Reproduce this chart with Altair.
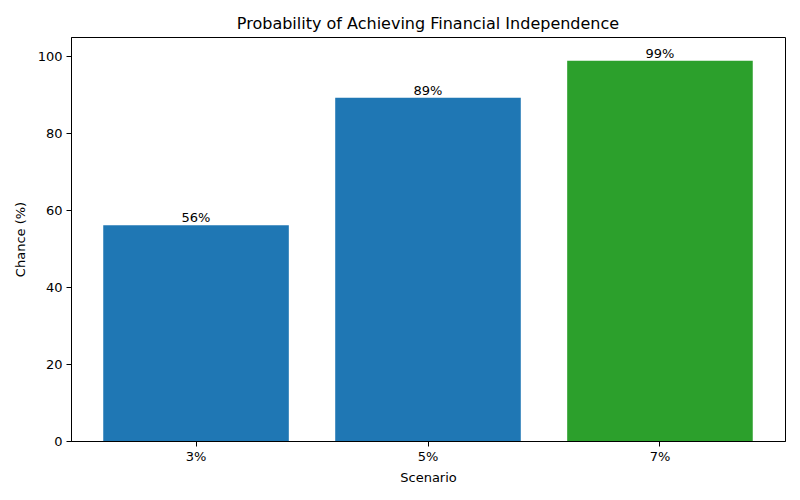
import altair as alt
import pandas as pd

scenarios = ["3%", "5%", "7%"]
chances = [56.1, 89.2, 98.8]
bar_colors = ["#1f77b4", "#1f77b4", "#2ca02c"]
labels = ["56%", "89%", "99%"]

source = pd.DataFrame(
    {"Scenario": scenarios, "Chance": chances, "Color": bar_colors, "Label": labels}
)

font = "DejaVu Sans"

base = alt.Chart(source).encode(
    x=alt.X(
        "Scenario:N",
        sort=scenarios,
        title="Scenario",
        scale=alt.Scale(paddingInner=0.2, paddingOuter=0.139),
        axis=alt.Axis(labelAngle=0, labelPadding=4, titlePadding=8),
    ),
    y=alt.Y(
        "Chance:Q",
        title="Chance (%)",
        scale=alt.Scale(domain=[0, 105], nice=False),
        axis=alt.Axis(values=[0, 20, 40, 60, 80, 100], grid=False, labelPadding=4, titlePadding=10),
    ),
)

bars = base.mark_bar().encode(color=alt.Color("Color:N", scale=None))

text = base.mark_text(baseline="bottom", dy=0, fontSize=13, font=font, color="black").encode(
    text="Label:N"
)

chart = (
    (bars + text)
    .properties(
        width=714,
        height=404,
        title=alt.TitleParams(
            "Probability of Achieving Financial Independence",
            fontSize=16,
            fontWeight="normal",
            font=font,
            color="black",
            offset=5,
        ),
        autosize=alt.AutoSizeParams(type="none"),
        padding={"left": 63, "top": 29, "right": 7, "bottom": 51},
    )
    .configure_view(stroke="black", strokeWidth=1)
    .configure_axis(
        domainColor="black",
        tickColor="black",
        tickSize=5,
        labelFont=font,
        titleFont=font,
        labelFontSize=13,
        titleFontSize=13,
        titleFontWeight="normal",
        labelColor="black",
        titleColor="black",
    )
)

chart.save("out.html", embed_options={"renderer": "svg", "actions": False})
